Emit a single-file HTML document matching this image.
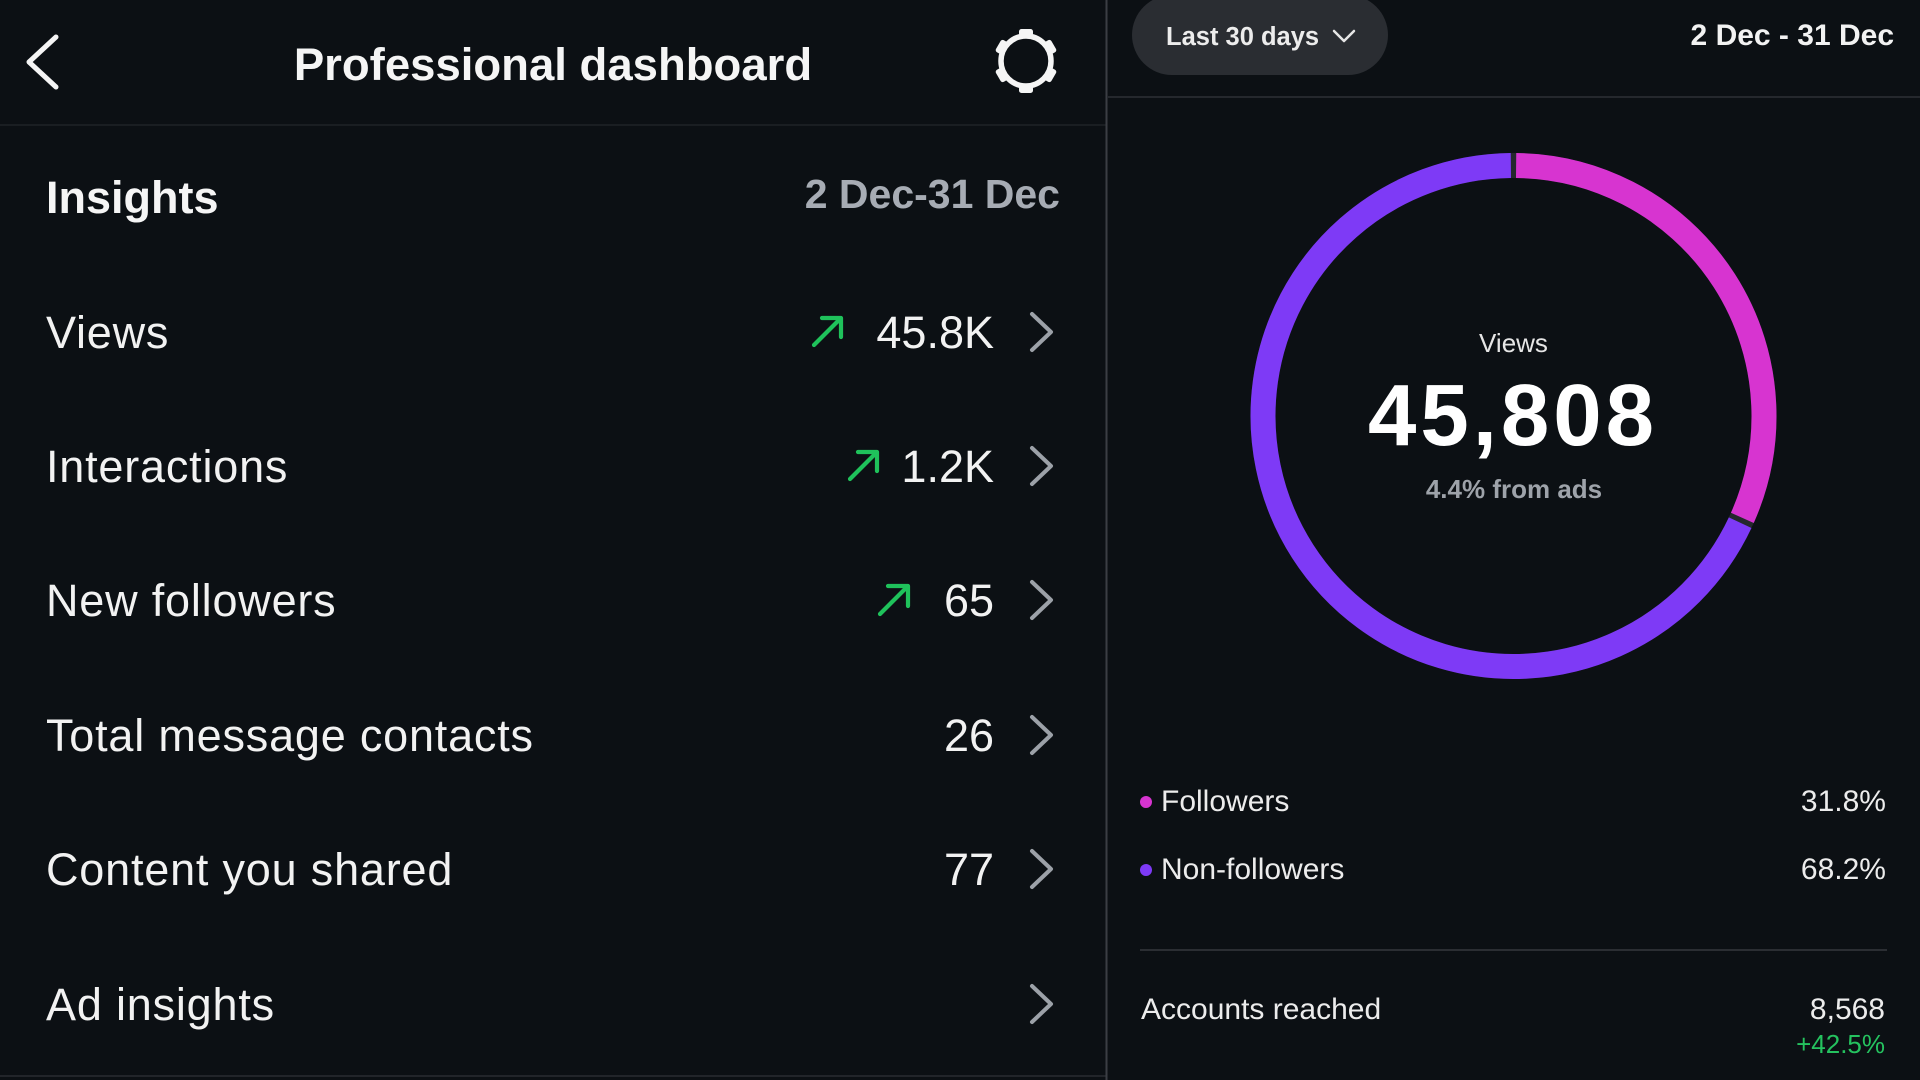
<!DOCTYPE html>
<html>
<head>
<meta charset="utf-8">
<style>
  html, body { margin:0; padding:0; background:#0c1014; }
  body { width:1920px; height:1080px; overflow:hidden; }
  svg { display:block; }
  text { font-family: "Liberation Sans", "DejaVu Sans", sans-serif; }
</style>
</head>
<body>
<svg width="1920" height="1080" viewBox="0 0 1920 1080" xmlns="http://www.w3.org/2000/svg">
  <rect x="0" y="0" width="1920" height="1080" fill="#0c1014"/>

  <!-- ===== LEFT PANEL ===== -->
  <!-- back chevron -->
  <path d="M56 37 L29 62 L56 87" fill="none" stroke="#f5f5f5" stroke-width="5" stroke-linecap="round" stroke-linejoin="round"/>
  <!-- title -->
  <text x="553" y="80" font-size="45.5" font-weight="bold" fill="#f5f5f5" text-anchor="middle">Professional dashboard</text>
  <!-- gear -->
  <g transform="translate(1026,61)" fill="#f5f5f5">
    <circle cx="0" cy="0" r="25" fill="none" stroke="#f5f5f5" stroke-width="5.5"/>
    <rect x="-7" y="-32" width="14" height="7" rx="2.5" transform="rotate(0)"/>
    <rect x="-7" y="-32" width="14" height="7" rx="2.5" transform="rotate(60)"/>
    <rect x="-7" y="-32" width="14" height="7" rx="2.5" transform="rotate(120)"/>
    <rect x="-7" y="-32" width="14" height="7" rx="2.5" transform="rotate(180)"/>
    <rect x="-7" y="-32" width="14" height="7" rx="2.5" transform="rotate(240)"/>
    <rect x="-7" y="-32" width="14" height="7" rx="2.5" transform="rotate(300)"/>
  </g>
  <!-- header divider -->
  <line x1="0" y1="125" x2="1106" y2="125" stroke="#1f2227" stroke-width="1.5"/>

  <!-- Insights header -->
  <text x="46" y="213" font-size="45" font-weight="bold" fill="#f5f5f5">Insights</text>
  <text x="1060" y="208" font-size="41" font-weight="bold" fill="#a7acb4" text-anchor="end">2 Dec-31 Dec</text>

  <!-- rows -->
  <g font-size="45" fill="#f2f2f2" letter-spacing="0.8">
    <text x="46" y="348">Views</text>
    <text x="46" y="482">Interactions</text>
    <text x="46" y="616">New followers</text>
    <text x="46" y="751">Total message contacts</text>
    <text x="46" y="885">Content you shared</text>
    <text x="46" y="1020">Ad insights</text>
  </g>
  <g font-size="45" fill="#f2f2f2" text-anchor="end">
    <text x="994" y="348">45.8K</text>
    <text x="994" y="482">1.2K</text>
    <text x="994" y="616">65</text>
    <text x="994" y="751">26</text>
    <text x="994" y="885">77</text>
  </g>

  <!-- green arrows -->
  <g fill="none" stroke="#1fc25b" stroke-width="4.2" stroke-linecap="round" stroke-linejoin="round">
    <path d="M814 345 L841 318 M822 318 L841 318 L841 337"/>
    <path d="M850 479 L877 452 M858 452 L877 452 L877 471"/>
    <path d="M880 614 L908 586 M888 586 L908 586 L908 606"/>
  </g>

  <!-- chevrons -->
  <g fill="none" stroke="#9ca1a8" stroke-width="4" stroke-linecap="round" stroke-linejoin="round">
    <path d="M1032 314 L1051 332 L1032 350"/>
    <path d="M1032 448 L1051 466 L1032 484"/>
    <path d="M1032 582 L1051 600 L1032 618"/>
    <path d="M1032 717 L1051 735 L1032 753"/>
    <path d="M1032 851 L1051 869 L1032 887"/>
    <path d="M1032 986 L1051 1004 L1032 1022"/>
  </g>

  <!-- bottom divider left -->
  <line x1="0" y1="1076" x2="1106" y2="1076" stroke="#22252a" stroke-width="2"/>

  <!-- vertical divider -->
  <line x1="1106.5" y1="0" x2="1106.5" y2="1080" stroke="#3b3e44" stroke-width="2"/>

  <!-- ===== RIGHT PANEL ===== -->
  <!-- pill -->
  <rect x="1132" y="-5" width="256" height="80" rx="40" ry="40" fill="#2a2d32"/>
  <text x="1166" y="45" font-size="25.5" font-weight="bold" fill="#ececec">Last 30 days</text>
  <path d="M1334 31 L1344 41 L1354 31" fill="none" stroke="#e6e6e6" stroke-width="2.5" stroke-linecap="round" stroke-linejoin="round"/>

  <text x="1894" y="45" font-size="30" font-weight="bold" fill="#f2f2f2" text-anchor="end">2 Dec - 31 Dec</text>
  <line x1="1107" y1="97" x2="1920" y2="97" stroke="#25282d" stroke-width="2"/>

  <!-- donut -->
  <circle cx="1513.5" cy="416" r="250.5" fill="none" stroke="#25282d" stroke-width="25"/>
  <path d="M1516.12 165.51 A250.5 250.5 0 0 1 1742.34 517.89" fill="none" stroke="#d734d0" stroke-width="25"/>
  <path d="M1740.16 522.66 A250.5 250.5 0 1 1 1510.88 165.51" fill="none" stroke="#7e3af6" stroke-width="25"/>

  <text x="1513.5" y="352" font-size="26" fill="#e6e6e6" text-anchor="middle">Views</text>
  <text x="1513" y="445" font-size="87" font-weight="bold" fill="#ffffff" text-anchor="middle" letter-spacing="4">45,808</text>
  <text x="1514" y="498" font-size="26" font-weight="bold" fill="#9ea3aa" text-anchor="middle">4.4% from ads</text>

  <!-- legend -->
  <circle cx="1146" cy="802" r="6" fill="#d734d0"/>
  <circle cx="1146" cy="870" r="6" fill="#7e3af6"/>
  <g font-size="30" fill="#ececec">
    <text x="1161" y="811">Followers</text>
    <text x="1161" y="879">Non-followers</text>
  </g>
  <g font-size="30" fill="#ececec" text-anchor="end">
    <text x="1886" y="811">31.8%</text>
    <text x="1886" y="879">68.2%</text>
  </g>

  <line x1="1140" y1="950" x2="1887" y2="950" stroke="#2b2e33" stroke-width="2"/>

  <text x="1141" y="1019" font-size="30" fill="#ececec">Accounts reached</text>
  <text x="1885" y="1019" font-size="30" fill="#ececec" text-anchor="end">8,568</text>
  <text x="1885" y="1053" font-size="26" fill="#25c25f" text-anchor="end">+42.5%</text>
</svg>
</body>
</html>
